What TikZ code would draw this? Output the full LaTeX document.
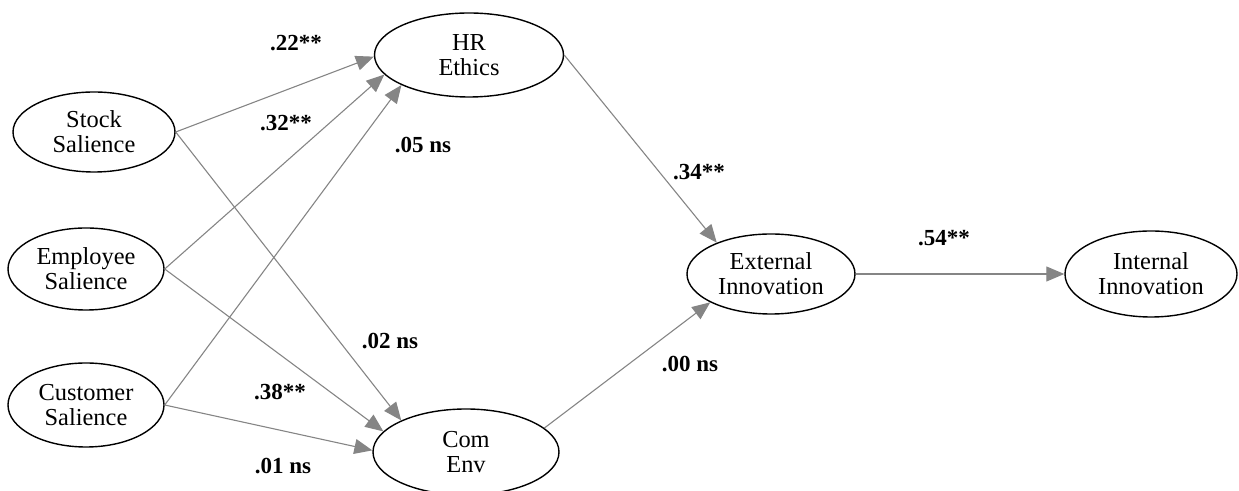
\documentclass[tikz,border=0pt]{standalone}
\usepackage{fontspec}
\setmainfont{Liberation Serif}
\usetikzlibrary{arrows.meta,shapes.geometric}
\definecolor{pathgray}{HTML}{858585}

\begin{document}
\begin{tikzpicture}[x=.5pt,y=-.5pt,>={Triangle[length=9pt,width=7.5pt]},
 latent/.style={draw,ellipse,line width=.7pt,inner sep=0pt,align=center,font=\fontsize{12.2}{12.6}\selectfont},
 effect/.style={->,pathgray,line width=.55pt},
 coef/.style={inner sep=0pt,font=\fontsize{11.5}{12}\selectfont\bfseries}]
 \useasboundingbox (0,0) rectangle (1239,491);
 \node[latent,minimum width=81pt,minimum height=40pt] (stock) at (94,132) {Stock\\Salience};
 \node[latent,minimum width=78pt,minimum height=41pt] (employee) at (86,269) {Employee\\Salience};
 \node[latent,minimum width=78pt,minimum height=42pt] (customer) at (86,405) {Customer\\Salience};
 \node[latent,minimum width=94.5pt,minimum height=42pt] (hr) at (469,55) {HR\\Ethics};
 \node[latent,minimum width=93pt,minimum height=43pt] (comenv) at (466,452) {Com\\Env};
 \node[latent,minimum width=84pt,minimum height=40pt] (extinn) at (771,274) {External\\Innovation};
 \node[latent,minimum width=86pt,minimum height=43pt] (intinn) at (1151,274) {Internal\\Innovation};
 \foreach \s/\t in {stock/hr.181,employee/hr.193,customer/hr.204,stock/comenv.154,employee/comenv.166,customer/comenv.179}
  \draw[effect] (\s.east) -- (\t);
 \draw[effect] (hr.east) -- (extinn.150);
 \draw[effect] (comenv.17) -- (extinn.205);
 \draw[effect] (extinn) -- (intinn);
 \node[coef] (c22) at (296,43) {.22**};
 \node[coef] (c32) at (286,123) {.32**};
 \node[coef] (c05) at (423,145) {.05 ns};
 \node[coef] (c02) at (390,341) {.02 ns};
 \node[coef] (c38) at (280,392) {.38**};
 \node[coef] (c01) at (283,466) {.01 ns};
 \node[coef] (c34) at (699,172) {.34**};
 \node[coef] (c00) at (690,364) {.00 ns};
 \node[coef] (c54) at (944,238) {.54**};
\end{tikzpicture}
\end{document}
